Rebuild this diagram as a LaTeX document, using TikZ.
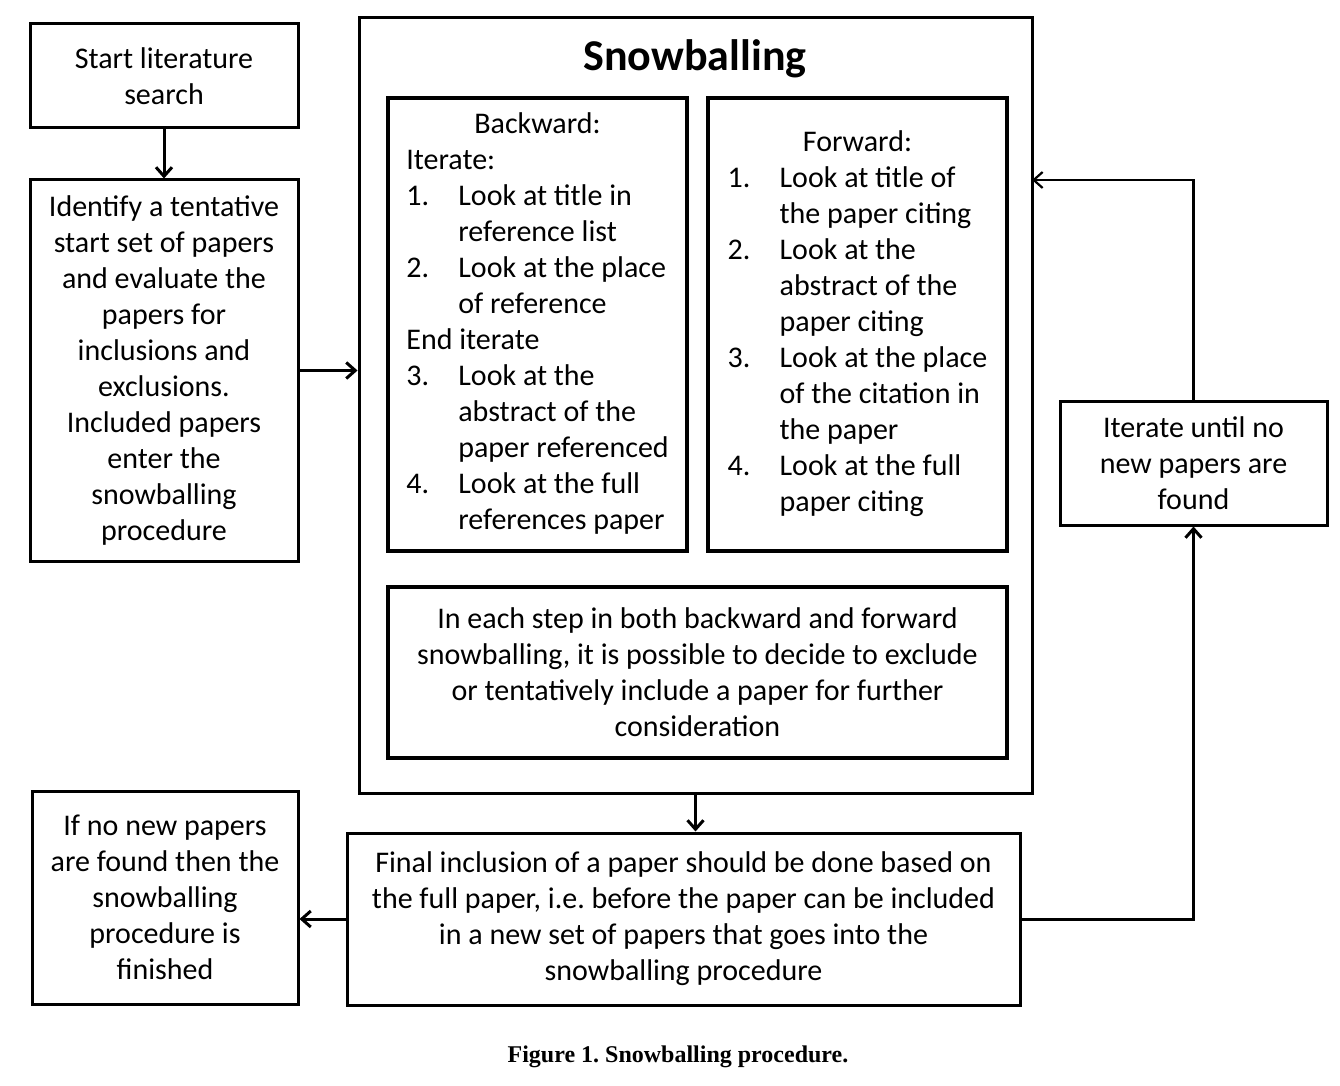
\documentclass[tikz,border=0pt]{standalone}
\usepackage{fontspec}
\setmainfont{Carlito}
\newfontfamily\capfont{Liberation Serif}
\usetikzlibrary{arrows.meta}
\frenchspacing

\begin{document}
\begin{tikzpicture}[x=0.5pt,y=-0.5pt]
		\useasboundingbox (0,0) rectangle (1340,1086);
		\tikzstyle{box}=[draw,line width=1.5pt,inner sep=0pt,align=center,font=\fontsize{15}{18}\selectfont]
		\tikzstyle{inbox}=[box,line width=1.8pt,minimum width=149.5pt,minimum height=226.5pt]
		\tikzstyle{arr}=[line width=1.5pt,-{Straight Barb[length=4.5pt,width=8pt]}]
		\node[box,minimum width=134pt,minimum height=52pt] (start) at (164,76) {Start literature\\search};
		\node[box,minimum width=134pt,minimum height=190.5pt] (ident) at (164,370.5)
			{Identify a tentative\\start set of papers\\and evaluate the\\papers for\\inclusions and\\exclusions.\\Included papers\\enter the\\snowballing\\procedure};
		\node[box,minimum width=336.5pt,minimum height=387.5pt] (snow) at (695.5,405.5) {};
		\node[font=\fontsize{22}{26}\selectfont\bfseries] (title) at (695,59) {Snowballing};
		\node[inbox] (back) at (537.5,324.5) {\begin{tabular}{@{}p{26pt}@{}l@{}}
			\multicolumn{2}{c}{Backward:}\\
			\multicolumn{2}{@{}l}{Iterate:}\\
			1. & Look at title in\\
			   & reference list\\
			2. & Look at the place\\
			   & of reference\\
			\multicolumn{2}{@{}l}{End iterate}\\
			3. & Look at the\\
			   & abstract of the\\
			   & paper referenced\\
			4. & Look at the full\\
			   & references paper
			\end{tabular}};
		\node[inbox] (fwd) at (857.5,324.5) {\begin{tabular}{@{}p{26pt}@{}l@{}}
			\multicolumn{2}{c}{Forward:}\\
			1. & Look at title of\\
			   & the paper citing\\
			2. & Look at the\\
			   & abstract of the\\
			   & paper citing\\
			3. & Look at the place\\
			   & of the citation in\\
			   & the paper\\
			4. & Look at the full\\
			   & paper citing
			\end{tabular}};
		\node[box,line width=1.8pt,minimum width=309.5pt,minimum height=85.5pt] (note) at (697.5,672.5)
			{In each step in both backward and forward\\snowballing, it is possible to decide to exclude\\or tentatively include a paper for further\\consideration};
		\node[box,minimum width=133.5pt,minimum height=62pt] (iter) at (1193.5,463) {Iterate until no\\new papers are\\found};
		\node[box,minimum width=133pt,minimum height=106.5pt] (done) at (165,897.5)
			{If no new papers\\are found then the\\snowballing\\procedure is\\finished};
		\node[box,minimum width=336.5pt,minimum height=86pt] (final) at (683.5,919)
			{Final inclusion of a paper should be done based on\\the full paper, i.e. before the paper can be included\\in a new set of papers that goes into the\\snowballing procedure};
		\node[font=\capfont\fontsize{12}{14}\selectfont\bfseries] (caption) at (678,1057) {Figure 1. Snowballing procedure.};
		\coordinate (loop) at (1032,180);
		\draw[arr] (start) -- (ident);
		\draw[arr] (ident.east) -- (ident.east -| snow.west);
		\draw[arr] (snow.south) -- (snow.south |- final.north);
		\draw[arr] (final.west) -- (final.west -| done.east);
		\draw[arr] (final.east) -| (iter.south);
		\draw[arr,line width=1.1pt] (iter.north) |- (loop);
\end{tikzpicture}
\end{document}
